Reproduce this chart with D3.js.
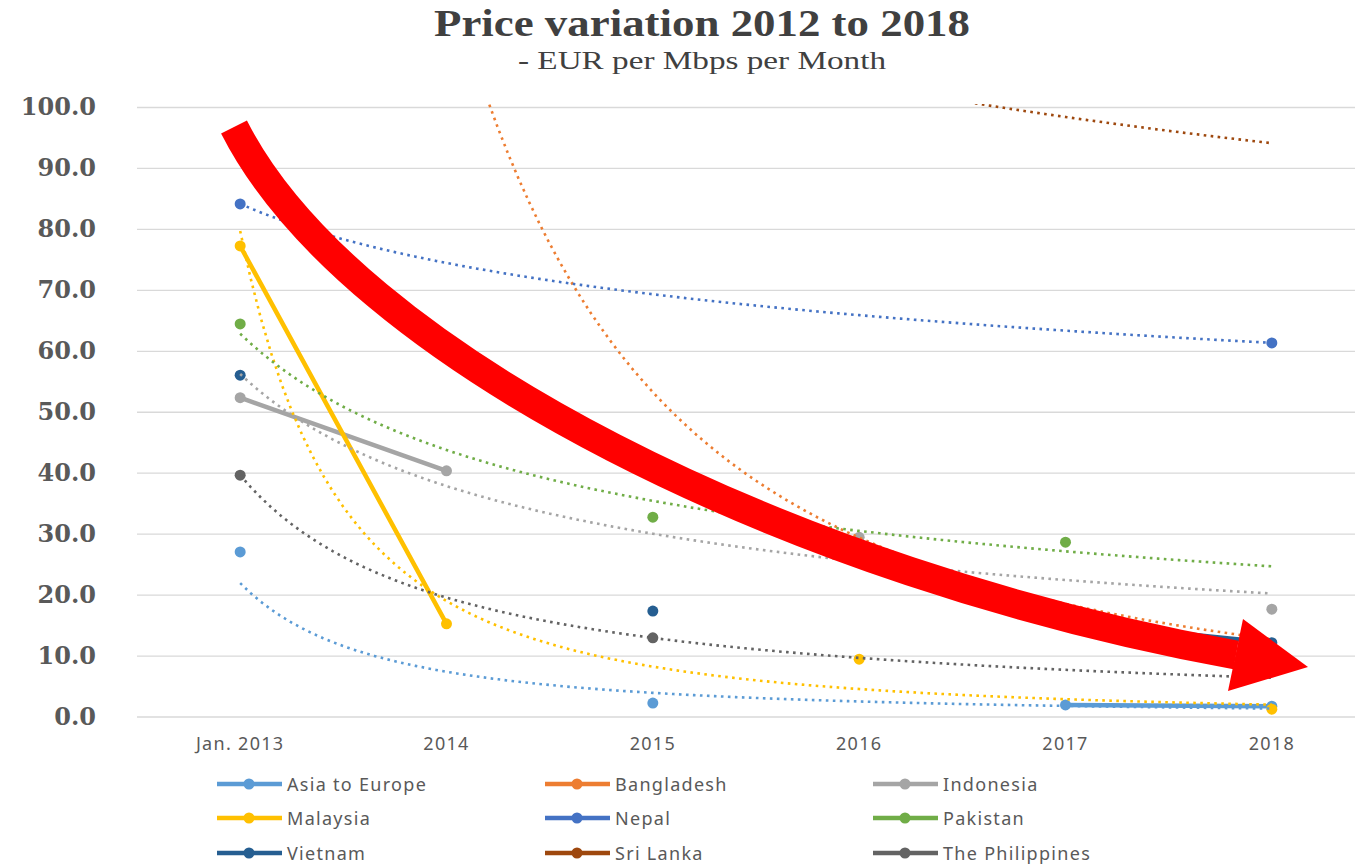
<!DOCTYPE html>
<html>
<head>
<meta charset="utf-8">
<script src="https://cdn.jsdelivr.net/npm/d3@7"></script>
<style>
  body { margin: 0; background: #fff; }
  svg { display: block; }
</style>
</head>
<body>
<div id="chart"></div>
<script>
// chart values
const categories = ["Jan. 2013", "2014", "2015", "2016", "2017", "2018"];
const seriesNames = ["Asia to Europe", "Bangladesh", "Indonesia", "Malaysia", "Nepal",
                     "Pakistan", "Vietnam", "Sri Lanka", "The Philippines"];
const seriesColors = ["#5B9BD5", "#ED7D31", "#A5A5A5", "#FFC000", "#4472C4",
                      "#70AD47", "#255E91", "#9E480E", "#636363"];

const asiaToEurope   = [27.0, null, 2.2, null, 1.9, 1.7];
const bangladesh     = [480, 140, null, null, 17.5, null];
const indonesia      = [52.3, 40.3, null, 29.4, null, 17.6];
const malaysia       = [77.2, 15.2, null, 9.4, null, 1.2];
const nepal          = [84.1, null, null, null, null, 61.3];
const pakistan       = [64.4, null, 32.7, null, 28.6, null];
const vietnam        = [56.0, null, 17.3, null, 15.5, 12.1];
const sriLanka       = [146, null, 111.5, null, null, null];
const philippines    = [39.6, null, 12.9, null, null, null];

const seriesValues = [asiaToEurope, bangladesh, indonesia, malaysia, nepal,
                      pakistan, vietnam, sriLanka, philippines];
// series with a power trendline in the original
const withTrend = ["Asia to Europe", "Bangladesh", "Indonesia", "Malaysia", "Nepal",
                   "Pakistan", "Sri Lanka", "The Philippines"];
const yTicks = [0, 10, 20, 30, 40, 50, 60, 70, 80, 90, 100];

const titleText = "Price variation 2012 to 2018";
const subtitleText = "- EUR per Mbps per Month";

// layout
const width = 1355, height = 865;
const plotLeft = 137, plotRight = 1375, plotTop = 107, plotBottom = 716.5;

const svg = d3.select("#chart").append("svg")
  .attr("width", width).attr("height", height);

svg.append("rect").attr("width", width).attr("height", height).attr("fill", "#fff");

svg.append("defs").append("clipPath").attr("id", "plotClip")
  .append("rect")
  .attr("x", plotLeft).attr("y", plotTop - 3)
  .attr("width", plotRight - plotLeft).attr("height", plotBottom - plotTop + 6);

const xBand = d3.scaleBand().domain(categories).range([plotLeft, plotRight]).padding(0);
const xPos = c => xBand(c) + xBand.bandwidth() / 2;
// continuous x for trendlines (category index 1..n)
const xLin = d3.scaleLinear().domain([1, categories.length])
  .range([xPos(categories[0]), xPos(categories[categories.length - 1])]);
const y = d3.scaleLinear().domain([0, 100]).range([plotBottom, plotTop]);

// title
svg.append("text")
  .attr("x", 702).attr("y", 36)
  .attr("text-anchor", "middle")
  .attr("textLength", 536).attr("lengthAdjust", "spacingAndGlyphs")
  .style("font-family", "'Liberation Serif', serif")
  .style("font-weight", "bold")
  .style("font-size", "37px")
  .style("fill", "#404040")
  .text(titleText);

svg.append("text")
  .attr("x", 702).attr("y", 69)
  .attr("text-anchor", "middle")
  .attr("textLength", 368).attr("lengthAdjust", "spacingAndGlyphs")
  .style("font-family", "'Liberation Serif', serif")
  .style("font-size", "26px")
  .style("fill", "#404040")
  .text(subtitleText);

// y axis + gridlines
const yAxis = d3.axisLeft(y)
  .tickValues(yTicks)
  .tickFormat(d3.format(".1f"))
  .tickSizeInner(-(plotRight - plotLeft))
  .tickSizeOuter(0)
  .tickPadding(41);

const yg = svg.append("g")
  .attr("transform", "translate(" + plotLeft + ",0)")
  .call(yAxis);
yg.select(".domain").remove();
yg.selectAll(".tick line").attr("stroke", "#D9D9D9").attr("stroke-width", 1.3);
yg.selectAll(".tick text")
  .style("font-family", "'DejaVu Serif', serif")
  .style("font-weight", "bold")
  .style("font-size", "24px")
  .style("fill", "#595959");

// x axis
const xAxis = d3.axisBottom(xBand).tickSize(0).tickPadding(21);
const xg = svg.append("g")
  .attr("transform", "translate(0," + plotBottom + ")")
  .call(xAxis);
xg.select(".domain").remove();
xg.selectAll(".tick text")
  .style("font-family", "'Noto Sans', sans-serif")
  .style("font-size", "18px")
  .style("letter-spacing", "1.3px")
  .style("fill", "#595959");

// power trendline fit (least squares in log-log space, as the spreadsheet does)
function powerFit(vals) {
  const pts = vals.map((v, i) => [i + 1, v]).filter(p => p[1] != null && p[1] > 0);
  const lx = pts.map(p => Math.log(p[0])), ly = pts.map(p => Math.log(p[1]));
  const mx = d3.mean(lx), my = d3.mean(ly);
  let sxy = 0, sxx = 0;
  lx.forEach((v, i) => { sxy += (v - mx) * (ly[i] - my); sxx += (v - mx) * (v - mx); });
  const b = sxy / sxx;
  const a = Math.exp(my - b * mx);
  return { a, b };
}

const plot = svg.append("g").attr("clip-path", "url(#plotClip)");

const lineGen = d3.line()
  .defined(d => d.v != null)
  .x(d => xPos(d.c))
  .y(d => y(d.v));

seriesNames.forEach((name, si) => {
  const pts = categories.map((c, i) => ({ c: c, v: seriesValues[si][i] }));
  plot.append("path")
    .datum(pts)
    .attr("d", lineGen)
    .attr("fill", "none")
    .attr("stroke", seriesColors[si])
    .attr("stroke-width", 4.5)
    .attr("stroke-linecap", "round")
    .attr("stroke-linejoin", "round");

  plot.selectAll(null)
    .data(pts.filter(d => d.v != null))
    .enter().append("circle")
    .attr("cx", d => xPos(d.c))
    .attr("cy", d => y(d.v))
    .attr("r", 5.5)
    .attr("fill", seriesColors[si]);
});

// trendlines on top
const trendLine = d3.line().x(d => xLin(d[0])).y(d => y(d[1]));
seriesNames.forEach((name, si) => {
  if (withTrend.indexOf(name) < 0) return;
  const fit = powerFit(seriesValues[si]);
  const samples = d3.range(1, categories.length + 0.001, 0.05)
    .map(t => [t, fit.a * Math.pow(t, fit.b)]);
  plot.append("path")
    .datum(samples)
    .attr("d", trendLine)
    .attr("fill", "none")
    .attr("stroke", seriesColors[si])
    .attr("stroke-width", 2.6)
    .attr("stroke-dasharray", "2.6,4.4");
});

// legend
const legendCols = [217, 545, 873];
const legendRows = [784, 818, 853];
const legend = svg.append("g");
seriesNames.forEach((name, si) => {
  const lx = legendCols[si % 3], ly = legendRows[Math.floor(si / 3)];
  const g = legend.append("g").attr("transform", "translate(" + lx + "," + ly + ")");
  g.append("line").attr("x1", 0).attr("x2", 65).attr("y1", 0).attr("y2", 0)
    .attr("stroke", seriesColors[si]).attr("stroke-width", 4.5);
  g.append("circle").attr("cx", 32).attr("cy", 0).attr("r", 5.5).attr("fill", seriesColors[si]);
  g.append("text").attr("x", 70).attr("y", 6.5)
    .style("font-family", "'Noto Sans', sans-serif")
    .style("font-size", "18px")
    .style("letter-spacing", "1.3px")
    .style("fill", "#595959")
    .text(name);
});

// red curved arrow annotation (one smooth cubic curve + triangular head)
const arrow = d3.path();
arrow.moveTo(234, 127);
arrow.bezierCurveTo(351, 358, 795, 575, 1236, 655);
svg.append("path")
  .attr("d", arrow.toString())
  .attr("fill", "none")
  .attr("stroke", "#FF0000")
  .attr("stroke-width", 29)
  .attr("stroke-linecap", "butt");
svg.append("polygon")
  .attr("points", [[1243, 619], [1308, 667], [1228, 691]].map(p => p.join(",")).join(" "))
  .attr("fill", "#FF0000");
</script>
</body>
</html>
